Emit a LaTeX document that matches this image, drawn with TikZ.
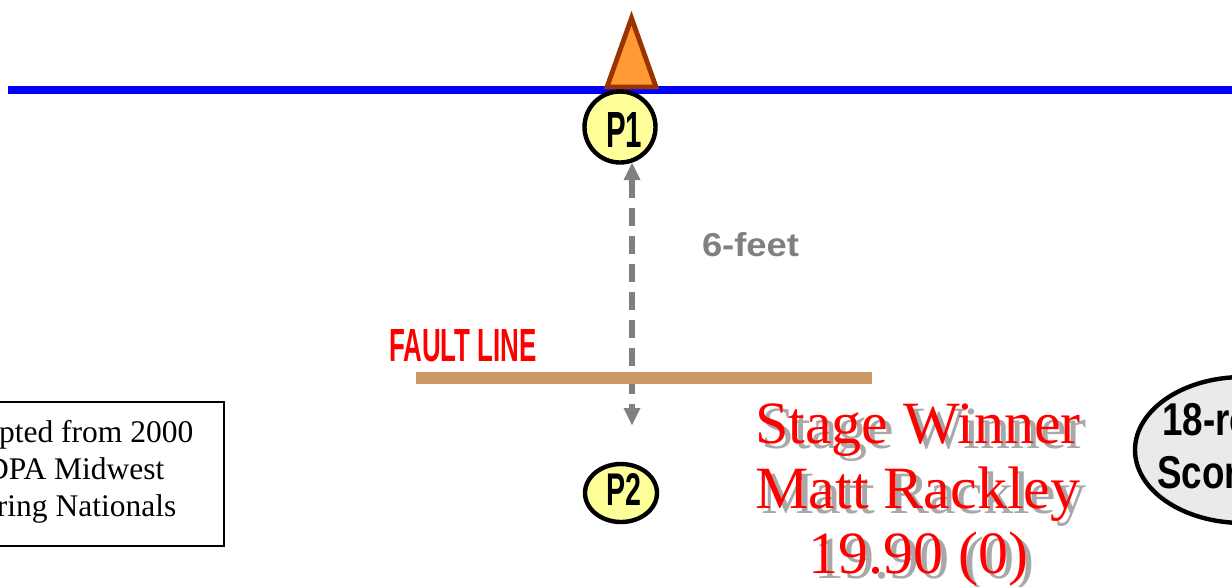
\documentclass[tikz,border=0pt]{standalone}
\usepackage{fontspec}
\setmainfont{Liberation Serif}
\newfontfamily\arialf{Liberation Sans}
\usepackage{graphicx}
\usetikzlibrary{arrows.meta,shapes.geometric}
\definecolor{conefill}{HTML}{FF9933}
\definecolor{coneedge}{HTML}{993300}
\definecolor{padfill}{HTML}{FFFF99}
\definecolor{faultcol}{HTML}{CC9966}
\definecolor{shadecol}{HTML}{A8A8A8}
\definecolor{scorefill}{HTML}{EAEAEA}
\definecolor{dimcol}{HTML}{808080}
\definecolor{wallblue}{HTML}{0000FF}
\definecolor{labelred}{HTML}{FF0000}
\begin{document}
\begin{tikzpicture}[x=0.5pt,y=-0.5pt,
  posmark/.style={draw=black,line width=2.2pt,fill=padfill,inner sep=0pt,outer sep=0pt},
  postext/.style={inner sep=0pt,outer sep=0pt},
  headtip/.tip={Triangle[length=8.5pt,width=8.5pt,line width=0pt]},
  winner/.style={inner sep=0pt,anchor=base,font=\fontsize{30pt}{32.5pt}\selectfont},
  notefont/.style={inner sep=0pt,anchor=base,font=\fontsize{15.75pt}{18.5pt}\selectfont},
  scorefont/.style={inner sep=0pt,anchor=base west}]
\useasboundingbox (0,0) rectangle (1232,586);
\clip (0,0) rectangle (1232,586);

% wall line and start cone
\draw[wallblue,line width=4pt] (8,90) -- (1240,90);
\draw[fill=conefill,draw=coneedge,line width=2.4pt] (631.5,18) -- (656,87) -- (607,87) -- cycle;

% shooting positions
\node[posmark,circle,minimum size=35.5pt] (p1) at (620,127) {};
\node[postext] (p1t) at (624,129.5) {\resizebox{18pt}{17.5pt}{\arialf\bfseries P1}};
\node[posmark,ellipse,minimum width=36pt,minimum height=29pt] (p2) at (621,493) {};
\node[postext] (p2t) at (623.5,489) {\resizebox{17.5pt}{16pt}{\arialf\bfseries P2}};

% distance between positions
\coordinate (dtop) at (632,163);
\coordinate (dbot) at (632,425);
\draw[dimcol,line width=3pt,dash pattern=on 9pt off 5pt,headtip-headtip] (dtop) -- (dbot);
\node[postext,anchor=south west] (dist) at (702,257) {\resizebox{48.5pt}{12pt}{\arialf\bfseries\color{dimcol}6-feet}};

% fault line
\coordinate (fl) at (416,378);
\coordinate (fr) at (872,378);
\draw[faultcol,line width=6pt] (fl) -- (fr);
\node[postext,anchor=south west] (faultlbl) at (389,362) {\resizebox{74pt}{16pt}{\arialf\bfseries\color{labelred}FAULT LINE}};

% source note
\node[draw=black,line width=1pt,minimum width=154pt,minimum height=72pt,inner sep=0pt] (note) at (70,474) {};
\node[notefont] (n1) at (70,442) {Adapted from 2000};
\node[notefont] (n2) at (70,479) {IDPA Midwest};
\node[notefont] (n3) at (70,516) {Spring Nationals};

% stage winner, with drop shadow
\foreach \txt/\yy [count=\i] in {Stage Winner/443, Matt Rackley/508, 19.90 (0)/573}{
  \node[winner,text=shadecol] (ws\i) at (924,\yy+5) {\txt};
  \node[winner,text=labelred] (w\i) at (918,\yy) {\txt};
}

% scoring oval
\node[draw=black,line width=2.2pt,fill=scorefill,ellipse,minimum width=108pt,minimum height=73pt,inner sep=0pt] (score) at (1243,450) {};
\node[scorefont] (s1) at (1162,435) {\scalebox{0.8}[1]{\fontsize{23pt}{23pt}\arialf\bfseries 18-rounds}};
\node[scorefont] (s2) at (1157,488) {\scalebox{0.8}[1]{\fontsize{23pt}{23pt}\arialf\bfseries Scoring}};
\end{tikzpicture}
\end{document}
